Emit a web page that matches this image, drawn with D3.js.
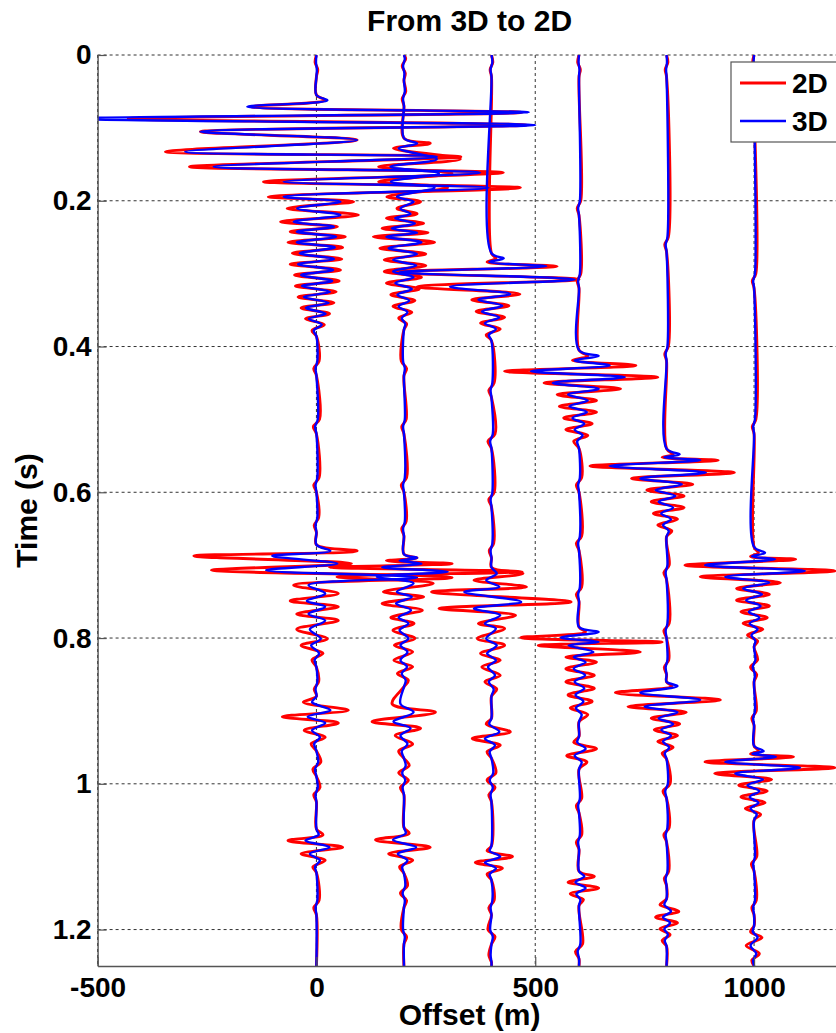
<!DOCTYPE html>
<html><head><meta charset="utf-8">
<script src="https://cdn.jsdelivr.net/npm/d3@7"></script>
<style>body{margin:0;background:#fff}svg{display:block}</style>
</head><body><svg id="c" width="836" height="1033"></svg>
<script>
// ---- data ----
const offsets = [0, 200, 400, 600, 800, 1000];
const seriesNames = ["2D", "3D"];
const seriesColors = ["#ff0000", "#0000ff"];
const xTicks = [-500, 0, 500, 1000];
const yTicks = [0, 0.2, 0.4, 0.6, 0.8, 1, 1.2];
// rows: [time (s), 2D amplitude (m), 3D amplitude (m)]
const trace0 = [[0,0,0],[0.01,-3,-1],[0.02,3,1],[0.03,0,0],
[0.055,0,0],[0.062,20,25],[0.0709,-150,-158],[0.0787,470,485],[0.0874,-430,-560],[0.0961,480,500],[0.1052,-265,-265],[0.1167,93,93],[0.1327,-345,-300],[0.1396,330,275],[0.1533,-290,-235],[0.1615,427,374],[0.1739,-121,-75],[0.1821,466,393],[0.1945,-110,-75],[0.2013,85,55],[0.2105,-67,-44],[0.2196,96,55],[0.2288,-82,-52],[0.2357,48,40],[0.2425,-60,-45],[0.2494,66,45],[0.257,-65,-45],[0.264,60,42],[0.272,-55,-38],[0.28,58,40],[0.287,-60,-42],[0.295,55,38],[0.302,-50,-35],[0.31,52,36],[0.317,-48,-33],[0.325,45,31],[0.332,-42,-29],[0.34,40,28],[0.347,-35,-24],[0.355,30,21],[0.362,-25,-17],[0.37,18,12],[0.378,-10,-6],[0.386,0,0],
[0.42,6,2],[0.43,-6,-2],[0.44,0,0],[0.5,7,3],[0.51,-7,-3],[0.52,0,0],[0.58,6,2],[0.59,-6,-2],[0.6,0,0],[0.635,5,2],[0.645,-5,-2],[0.655,0,0],
[0.672,0,0],[0.6804,93,32],[0.6873,-280,-101],[0.6978,80,48],[0.7069,-240,-115],[0.717,310,230],[0.7275,-52,-18],[0.739,50,20],[0.749,-60,-22],[0.757,50,20],[0.767,-45,-18],[0.776,50,20],[0.788,-45,-15],[0.801,25,10],[0.81,-35,-12],[0.821,15,6],[0.83,-10,-4],[0.84,0,0],
[0.86,5,2],[0.87,-5,-2],[0.88,0,0],
[0.888,-30,-10],[0.899,73,32],[0.908,-78,-20],[0.9165,50,20],[0.9266,-28,-10],[0.936,20,8],[0.945,-12,-5],[0.955,0,0],
[0.97,10,4],[0.98,-8,-3],[0.99,0,0],[1.005,8,3],[1.015,-6,-2],[1.025,0,0],
[1.062,0,0],[1.07,15,5],[1.078,-65,-25],[1.087,60,30],[1.096,-35,-15],[1.105,20,8],[1.114,-8,-3],[1.122,0,0],
[1.16,6,2],[1.17,-6,-2],[1.18,0,0],[1.25,0,0]];
const trace200 = [[0,0,0],[0.005,4,2],[0.015,-4,-2],[0.025,3,1],[0.035,0,0],[0.05,4,2],[0.06,-4,-2],[0.07,0,0],
[0.114,0,0],[0.1212,60,30],[0.128,-24,-12],[0.1428,129,75],[0.1533,-58,-31],[0.1624,110,80],[0.1739,-58,-30],[0.1821,100,70],[0.1945,-39,-16],[0.2013,38,22],[0.2105,-16,-8],[0.218,30,15],[0.224,-40,-20],[0.231,45,25],[0.2379,-50,-28],[0.2439,55,30],[0.2494,-70,-40],[0.257,70,40],[0.265,-55,-35],[0.273,50,30],[0.281,-45,-25],[0.289,50,28],[0.297,-45,-25],[0.305,40,22],[0.313,-40,-20],[0.321,35,18],[0.329,-30,-15],[0.337,25,12],[0.345,-25,-12],[0.353,18,8],[0.361,-12,-5],[0.369,6,3],[0.377,0,0],
[0.42,-6,-2],[0.43,6,2],[0.44,0,0],[0.5,5,2],[0.51,-5,-2],[0.52,0,0],[0.58,6,2],[0.59,-6,-2],[0.6,0,0],[0.64,5,2],[0.65,-5,-2],[0.66,0,0],
[0.685,0,0],[0.69,30,30],[0.694,-40,-10],[0.698,110,40],[0.703,-170,-50],[0.709,270,100],[0.716,-153,-62],[0.725,67,22],[0.7366,-47,-16],[0.7435,45,18],[0.7526,-50,-18],[0.7618,42,16],[0.7718,-30,-12],[0.78,23,10],[0.7892,-25,-10],[0.8006,25,10],[0.8098,-22,-8],[0.819,20,8],[0.8304,-23,-8],[0.8395,20,7],[0.8487,-15,-5],[0.858,10,4],[0.867,0,0],
[0.8903,-27,-8],[0.9018,72,22],[0.9147,-73,-24],[0.9238,38,15],[0.9339,-20,-8],[0.9453,20,8],[0.955,-12,-5],[0.965,0,0],
[0.975,12,4],[0.985,-12,-4],[0.995,10,3],[1.005,-8,-3],[1.015,0,0],
[1.06,0,0],[1.068,12,4],[1.077,-65,-25],[1.087,60,28],[1.096,-35,-14],[1.105,20,8],[1.114,-10,-4],[1.123,0,0],
[1.14,8,3],[1.15,-8,-3],[1.16,6,2],[1.17,0,0],[1.2,-6,-2],[1.21,6,2],[1.22,0,0],[1.25,0,0]];
const trace400 = [[0,0,0],[0.01,3,2],[0.02,-3,-2],[0.03,0,0],
[0.272,0,0],[0.279,10,28],[0.284,-10,-5],[0.29,150,125],[0.298,-235,-210],[0.308,200,190],[0.318,-170,-95],[0.328,65,43],[0.336,-45,-30],[0.344,40,25],[0.352,-35,-22],[0.36,30,18],[0.368,-25,-15],[0.376,20,10],[0.384,-12,-6],[0.392,0,0],
[0.45,6,2],[0.46,-6,-2],[0.47,0,0],[0.52,8,3],[0.53,-8,-3],[0.54,0,0],[0.6,6,2],[0.61,-6,-2],[0.62,0,0],[0.67,5,2],[0.68,-5,-2],[0.69,0,0],
[0.703,0,0],[0.7115,72,12],[0.7207,-40,-12],[0.7298,80,18],[0.7367,-137,-62],[0.7504,182,68],[0.7595,-120,-40],[0.7687,55,20],[0.7801,-30,-15],[0.787,30,10],[0.8007,-32,-12],[0.8099,30,12],[0.8213,-25,-10],[0.8305,20,10],[0.8396,-22,-8],[0.8511,20,8],[0.86,-15,-6],[0.87,12,5],[0.88,0,0],
[0.91,0,0],[0.918,-12,-5],[0.9288,43,18],[0.938,-44,-15],[0.947,20,8],[0.956,-10,-4],[0.965,0,0],
[0.985,10,4],[0.995,-10,-4],[1.005,8,3],[1.015,-6,-2],[1.025,0,0],
[1.085,0,0],[1.092,-10,-4],[1.1,48,20],[1.108,-37,-15],[1.116,25,10],[1.124,-10,-4],[1.132,0,0],
[1.16,6,2],[1.17,-6,-2],[1.18,0,0],[1.2,-8,-3],[1.21,8,3],[1.22,0,0],[1.235,-6,-2],[1.245,0,0],[1.25,0,0]];
const trace600 = [[0,0,0],[0.01,-3,-1],[0.02,3,1],[0.03,0,0],
[0.2,4,2],[0.21,-4,-2],[0.22,0,0],[0.3,4,2],[0.31,-4,-2],[0.32,0,0],
[0.405,0,0],[0.413,20,45],[0.419,-15,-10],[0.426,130,70],[0.434,-170,-110],[0.442,180,105],[0.45,-80,-60],[0.458,95,45],[0.466,-50,-25],[0.474,40,20],[0.482,-45,-22],[0.49,40,18],[0.498,-35,-15],[0.506,30,12],[0.514,-30,-10],[0.522,20,8],[0.53,-12,-4],[0.54,0,0],
[0.58,6,2],[0.59,-6,-2],[0.6,0,0],[0.66,6,2],[0.67,-6,-2],[0.68,0,0],[0.73,6,2],[0.74,-6,-2],[0.75,0,0],
[0.785,0,0],[0.7916,15,45],[0.7994,-133,-42],[0.8055,190,45],[0.8101,-93,-24],[0.8192,140,33],[0.8261,-30,-12],[0.833,40,15],[0.842,-30,-12],[0.851,35,14],[0.86,-30,-10],[0.869,35,12],[0.878,-25,-8],[0.887,30,10],[0.896,-20,-7],[0.905,20,6],[0.915,0,0],
[0.935,0,0],[0.943,-12,-4],[0.952,40,15],[0.9614,-28,-10],[0.97,18,6],[0.98,0,0],
[1.02,6,2],[1.03,-6,-2],[1.04,0,0],[1.07,6,2],[1.08,-6,-2],[1.09,0,0],
[1.12,0,0],[1.127,35,12],[1.135,-25,-8],[1.143,45,15],[1.151,-20,-6],[1.159,10,3],[1.167,0,0],
[1.22,8,3],[1.23,-8,-3],[1.24,0,0],[1.25,0,0]];
const trace800 = [[0,0,0],[0.01,3,1],[0.02,-3,-1],[0.03,0,0],
[0.25,4,2],[0.26,-4,-2],[0.27,0,0],[0.4,4,2],[0.41,-4,-2],[0.42,0,0],
[0.54,0,0],[0.548,15,30],[0.552,-10,-5],[0.556,118,77],[0.564,-175,-130],[0.573,155,90],[0.581,-80,-60],[0.589,60,35],[0.597,-45,-25],[0.605,40,20],[0.613,-35,-18],[0.621,40,15],[0.629,-30,-12],[0.637,25,10],[0.645,-20,-8],[0.653,12,5],[0.661,0,0],
[0.7,6,2],[0.71,-6,-2],[0.72,0,0],[0.78,6,2],[0.79,-6,-2],[0.8,0,0],[0.83,5,2],[0.84,-5,-2],[0.85,0,0],
[0.86,0,0],[0.866,12,25],[0.875,-117,-60],[0.885,123,77],[0.894,-88,-50],[0.902,45,25],[0.91,-35,-18],[0.918,30,15],[0.926,-28,-12],[0.934,25,10],[0.942,-20,-8],[0.95,15,6],[0.958,-10,-4],[0.966,0,0],
[1.0,8,3],[1.01,-8,-3],[1.02,0,0],[1.06,6,2],[1.07,-6,-2],[1.08,0,0],[1.12,5,2],[1.13,-5,-2],[1.14,0,0],
[1.158,0,0],[1.166,-15,-5],[1.175,28,10],[1.183,-25,-8],[1.191,25,8],[1.199,-15,-5],[1.207,8,3],[1.215,-10,-4],[1.223,0,0],[1.25,0,0]];
const trace1000 = [[0,0,0],[0.01,-3,-1],[0.02,3,1],[0.03,0,0],
[0.3,4,2],[0.31,-4,-2],[0.32,0,0],[0.5,4,2],[0.51,-4,-2],[0.52,0,0],
[0.675,0,0],[0.683,10,25],[0.688,-8,-5],[0.692,95,48],[0.7,-158,-112],[0.708,185,116],[0.716,-123,-66],[0.724,60,35],[0.732,-40,-25],[0.74,35,18],[0.748,-40,-18],[0.756,35,15],[0.764,-30,-12],[0.772,30,12],[0.78,-25,-10],[0.788,20,8],[0.796,-15,-6],[0.804,8,3],[0.812,0,0],
[0.83,8,3],[0.84,-8,-3],[0.85,6,2],[0.86,0,0],[0.9,5,2],[0.91,-5,-2],[0.92,0,0],
[0.948,0,0],[0.955,10,22],[0.959,-8,-4],[0.963,90,50],[0.97,-112,-66],[0.978,185,105],[0.986,-90,-43],[0.994,40,20],[1.002,-35,-15],[1.01,30,12],[1.018,-30,-10],[1.026,25,10],[1.034,-20,-8],[1.042,15,6],[1.05,0,0],
[1.1,6,2],[1.11,-6,-2],[1.12,0,0],[1.16,5,2],[1.17,-5,-2],[1.18,0,0],
[1.195,0,0],[1.203,-8,-3],[1.211,18,8],[1.222,-18,-8],[1.233,12,5],[1.242,-5,-2],[1.25,0,0]];
const traces = [trace0, trace200, trace400, trace600, trace800, trace1000];

// ---- layout ----
const W = 836, H = 1033;
const L = 97.6, R = 841.6, T = 55, B = 966;
const FONT = "'Liberation Sans', Arial, Helvetica, sans-serif";
const svg = d3.select("#c");
svg.append("rect").attr("width", W).attr("height", H).attr("fill", "#fff");

const x = d3.scaleLinear().domain([-500, 1200]).range([L, R]);
const y = d3.scaleLinear().domain([0, 1.25]).range([T, B]);

svg.append("defs").append("clipPath").attr("id", "plotclip")
  .append("rect").attr("x", L).attr("y", T).attr("width", R - L).attr("height", B - T);

// grid
const grid = svg.append("g").attr("stroke", "#333").attr("stroke-width", 1).attr("stroke-dasharray", "3,3");
grid.selectAll("line.gx").data(xTicks).join("line")
  .attr("x1", d => x(d)).attr("x2", d => x(d)).attr("y1", T).attr("y2", B);
grid.selectAll("line.gy").data(yTicks).join("line")
  .attr("x1", L).attr("x2", R).attr("y1", d => y(d)).attr("y2", d => y(d));

// traces
const plot = svg.append("g").attr("clip-path", "url(#plotclip)");
const widths = [2.9, 2.4];
[1, 2].forEach((k, si) => {
  const g = plot.append("g");
  traces.forEach((tr, i) => {
    const off = offsets[i];
    const gen = d3.line()
      .x(d => x(off + d[k]))
      .y(d => y(d[0]))
      .curve(d3.curveCatmullRom.alpha(0.5));
    g.append("path").attr("d", gen(tr))
      .attr("fill", "none").attr("stroke", seriesColors[si])
      .attr("stroke-width", widths[si]).attr("stroke-linejoin", "round");
  });
});

// axes
const axCol = "#555";
const yAxis = svg.append("g").attr("transform", `translate(${L},0)`)
  .call(d3.axisLeft(y).tickValues(yTicks).tickSize(-9).tickSizeOuter(0).tickPadding(6).tickFormat(d => String(d)));
const xAxis = svg.append("g").attr("transform", `translate(0,${B})`)
  .call(d3.axisBottom(x).tickValues(xTicks).tickSize(-9).tickSizeOuter(0).tickPadding(11).tickFormat(d => String(d)));
[yAxis, xAxis].forEach(a => {
  a.select(".domain").attr("stroke", axCol).attr("stroke-width", 1.4);
  a.selectAll(".tick line").attr("stroke", axCol).attr("stroke-width", 1.2);
  a.selectAll(".tick text").attr("fill", "#000").style("font-family", FONT)
    .style("font-size", "28px").style("font-weight", "bold");
});

// title & labels
svg.append("text").attr("x", (L + R) / 2).attr("y", 31).attr("text-anchor", "middle")
  .style("font-family", FONT).style("font-size", "30px").style("font-weight", "bold")
  .text("From 3D to 2D");
svg.append("text").attr("x", (L + R) / 2).attr("y", 1025).attr("text-anchor", "middle")
  .style("font-family", FONT).style("font-size", "30px").style("font-weight", "bold")
  .text("Offset (m)");
svg.append("text").attr("transform", `translate(37,${(T + B) / 2}) rotate(-90)`).attr("text-anchor", "middle")
  .style("font-family", FONT).style("font-size", "30px").style("font-weight", "bold")
  .text("Time (s)");

// legend
const lg = svg.append("g");
lg.append("rect").attr("x", 731).attr("y", 62).attr("width", 130).attr("height", 80)
  .attr("fill", "#fff").attr("stroke", axCol).attr("stroke-width", 1.2);
seriesNames.forEach((n, i) => {
  const yy = 83 + i * 38;
  lg.append("line").attr("x1", 740).attr("x2", 786).attr("y1", yy).attr("y2", yy)
    .attr("stroke", seriesColors[i]).attr("stroke-width", widths[i]);
  lg.append("text").attr("x", 792).attr("y", yy + 10)
    .style("font-family", FONT).style("font-size", "28px").style("font-weight", "bold").text(n);
});
</script></body></html>
